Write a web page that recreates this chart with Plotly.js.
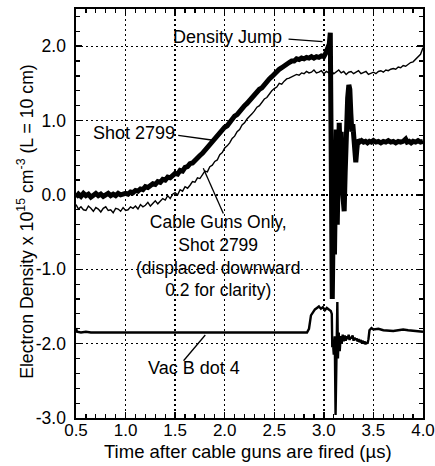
<!DOCTYPE html>
<html>
<head>
<meta charset="utf-8">
<script src="https://cdn.plot.ly/plotly-3.0.1.min.js"></script>
<style>html,body{margin:0;padding:0;background:#fff;}#chart{width:435px;height:466px;}</style>
</head>
<body>
<div id="chart"></div>
<script>
// ---- Shot 2799 (plasma shot, thick trace) ----
var shotX = [0.500,0.525,0.550,0.575,0.600,0.625,0.650,0.675,0.700,0.725,0.750,0.775,0.800,0.825,0.850,0.875,0.900,0.925,0.950,0.975,
1.000,1.025,1.050,1.075,1.100,1.125,1.150,1.175,1.200,1.225,1.250,1.275,1.300,1.325,1.350,1.375,1.400,1.425,1.450,1.475,
1.500,1.525,1.550,1.575,1.600,1.625,1.650,1.675,1.700,1.725,1.750,1.775,1.800,1.825,1.850,1.875,1.900,1.925,1.950,1.975,
2.000,2.025,2.050,2.075,2.100,2.125,2.150,2.175,2.200,2.225,2.250,2.275,2.300,2.325,2.350,2.375,2.400,2.425,2.450,2.475,
2.500,2.525,2.550,2.575,2.600,2.625,2.650,2.675,2.700,2.725,2.750,2.775,2.800,2.825,2.850,2.875,2.900,2.925,2.950,2.975,
3.000,3.020,3.040,3.055,3.065,3.072,3.078,3.085,3.092,3.100,3.107,3.115,3.125,3.135,3.145,3.155,3.165,3.175,3.185,3.195,
3.205,3.215,3.225,3.240,3.252,3.262,3.272,3.282,3.292,3.302,3.312,3.322,3.332,3.342,3.360,3.380,3.400,3.420,3.440,3.460,
3.480,3.500,3.525,3.550,3.575,3.600,3.625,3.650,3.675,3.700,3.725,3.750,3.775,3.800,3.825,3.840,3.860,3.880,3.900,3.925,
3.950,3.975,4.000];
var shotY = [-0.03,0.01,-0.02,0.02,-0.01,0.01,-0.03,0.00,0.02,-0.01,0.01,-0.02,0.01,0.02,-0.01,0.01,-0.01,0.02,0.00,0.01,
0.02,0.01,0.04,0.03,0.06,0.05,0.08,0.07,0.11,0.10,0.13,0.15,0.14,0.18,0.17,0.21,0.20,0.24,0.23,0.27,
0.29,0.28,0.33,0.32,0.37,0.38,0.42,0.43,0.47,0.50,0.53,0.56,0.60,0.63,0.67,0.71,0.75,0.78,0.83,0.86,
0.91,0.93,0.98,1.01,1.06,1.08,1.13,1.15,1.20,1.23,1.27,1.30,1.35,1.37,1.42,1.44,1.49,1.52,1.56,1.59,
1.63,1.65,1.69,1.71,1.74,1.76,1.78,1.80,1.80,1.83,1.82,1.84,1.83,1.85,1.84,1.86,1.84,1.86,1.85,1.87,
1.86,1.91,1.96,2.03,2.18,1.40,0.20,-1.40,-0.60,0.20,-0.80,0.50,0.88,-0.40,0.30,0.97,0.50,0.85,0.10,-0.20,
-0.22,0.30,0.90,1.30,1.48,1.42,1.10,0.85,0.95,0.75,0.60,0.44,0.60,0.74,0.71,0.73,0.71,0.72,0.70,0.72,
0.71,0.73,0.71,0.72,0.70,0.72,0.71,0.73,0.71,0.72,0.70,0.72,0.71,0.72,0.75,0.71,0.72,0.70,0.72,0.71,
0.73,0.71,0.72];

// ---- Cable guns only, shot 2799 (displaced downward 0.2), thin trace ----
var cableX = [0.500,0.525,0.550,0.575,0.600,0.625,0.650,0.675,0.700,0.725,0.750,0.775,0.800,0.825,0.850,0.875,0.900,0.925,0.950,0.975,
1.000,1.025,1.050,1.075,1.100,1.125,1.150,1.175,1.200,1.225,1.250,1.275,1.300,1.325,1.350,1.375,1.400,1.425,1.450,1.475,
1.500,1.525,1.550,1.575,1.600,1.625,1.650,1.675,1.700,1.725,1.750,1.775,1.800,1.825,1.850,1.875,1.900,1.925,1.950,1.975,
2.000,2.025,2.050,2.075,2.100,2.125,2.150,2.175,2.200,2.225,2.250,2.275,2.300,2.325,2.350,2.375,2.400,2.425,2.450,2.475,
2.500,2.525,2.550,2.575,2.600,2.625,2.650,2.675,2.700,2.725,2.750,2.775,2.800,2.825,2.850,2.875,2.900,2.925,2.950,2.975,
3.000,3.025,3.050,3.075,3.100,3.125,3.150,3.175,3.200,3.225,3.250,3.275,3.300,3.325,3.350,3.375,3.400,3.425,3.450,3.475,
3.500,3.525,3.550,3.575,3.600,3.625,3.650,3.675,3.700,3.725,3.750,3.775,3.800,3.825,3.850,3.875,3.900,3.925,3.950,3.975,
4.000];
var cableY = [-0.13,-0.19,-0.16,-0.20,-0.21,-0.15,-0.18,-0.22,-0.17,-0.19,-0.23,-0.18,-0.16,-0.21,-0.20,-0.24,-0.18,-0.19,-0.22,-0.17,
-0.21,-0.20,-0.16,-0.18,-0.15,-0.19,-0.13,-0.16,-0.14,-0.10,-0.15,-0.11,-0.08,-0.12,-0.09,-0.05,-0.07,-0.01,-0.05,0.01,
0.03,0.00,0.07,0.05,0.11,0.09,0.13,0.18,0.17,0.23,0.22,0.28,0.32,0.31,0.38,0.40,0.45,0.47,0.54,0.57,
0.63,0.66,0.70,0.76,0.79,0.85,0.88,0.94,0.97,1.02,1.05,1.09,1.13,1.18,1.20,1.25,1.29,1.31,1.36,1.40,
1.43,1.45,1.50,1.49,1.53,1.56,1.57,1.59,1.60,1.62,1.61,1.64,1.63,1.66,1.64,1.65,1.68,1.64,1.65,1.67,
1.63,1.66,1.64,1.67,1.63,1.65,1.68,1.64,1.66,1.62,1.65,1.66,1.63,1.65,1.67,1.63,1.64,1.66,1.62,1.64,
1.65,1.63,1.66,1.67,1.65,1.68,1.67,1.69,1.70,1.69,1.72,1.71,1.74,1.73,1.76,1.78,1.79,1.82,1.85,1.89,
1.98];

// ---- Vac B dot 4 (offset trace near -1.85) ----
var vacX = [0.500,0.510,0.550,0.600,0.650,0.700,0.750,0.800,0.850,0.900,0.950,1.000,1.050,1.100,1.150,1.200,1.250,1.300,1.350,1.400,
1.450,1.500,1.550,1.600,1.650,1.700,1.750,1.800,1.850,1.900,1.950,2.000,2.050,2.100,2.150,2.200,2.250,2.300,2.350,2.400,
2.450,2.500,2.550,2.600,2.650,2.700,2.750,2.800,2.830,2.850,2.870,2.890,2.910,2.930,2.950,2.970,2.990,3.010,3.030,3.050,
3.070,3.080,3.085,3.090,3.100,3.110,3.118,3.125,3.130,3.136,3.142,3.150,3.160,3.170,3.180,3.190,3.200,3.210,3.220,3.230,
3.240,3.250,3.260,3.270,3.280,3.290,3.300,3.310,3.320,3.330,3.340,3.350,3.360,3.370,3.380,3.390,3.400,3.410,3.420,3.430,
3.440,3.450,3.460,3.470,3.480,3.500,3.550,3.600,3.650,3.700,3.750,3.800,3.850,3.900,3.950,4.000];
var vacY = [-1.79,-1.84,-1.85,-1.84,-1.85,-1.85,-1.84,-1.85,-1.85,-1.84,-1.85,-1.85,-1.84,-1.85,-1.84,-1.85,-1.85,-1.84,-1.85,-1.84,
-1.85,-1.85,-1.84,-1.85,-1.84,-1.85,-1.85,-1.84,-1.85,-1.85,-1.84,-1.85,-1.84,-1.85,-1.85,-1.84,-1.85,-1.85,-1.84,-1.85,
-1.85,-1.84,-1.85,-1.85,-1.84,-1.85,-1.85,-1.84,-1.85,-1.80,-1.62,-1.58,-1.54,-1.52,-1.50,-1.53,-1.51,-1.55,-1.52,-1.54,
-1.56,-1.60,-2.05,-1.95,-2.15,-1.90,-2.96,-2.40,-1.95,-1.44,-2.20,-1.85,-2.10,-1.90,-2.00,-1.88,-1.97,-1.89,-1.96,-1.90,
-1.94,-1.88,-1.95,-1.91,-1.93,-1.89,-1.96,-1.92,-1.95,-1.93,-1.97,-1.94,-1.98,-1.95,-1.99,-1.96,-2.00,-1.97,-2.01,-1.98,
-2.00,-1.94,-1.82,-1.80,-1.79,-1.81,-1.80,-1.82,-1.83,-1.83,-1.82,-1.81,-1.82,-1.83,-1.84,-1.84];

// ---- Axis ticks and titles ----
var xTickVals = [0.5,1.0,1.5,2.0,2.5,3.0,3.5,4.0];
var xTickText = ['0.5','1.0','1.5','2.0','2.5','3.0','3.5','4.0'];
var yTickVals = [-3,-2,-1,0,1,2];
var yTickText = ['-3.0','-2.0','-1.0','0.0','1.0','2.0'];
var xTitle = 'Time after cable guns are fired (\u00b5s)';
var yTitle = 'Electron Density x 10<sup>15</sup> cm<sup>-3</sup> (L = 10 cm)';

var FONT = 'Liberation Sans, Arial, Helvetica, sans-serif';

var traces = [
  {x: cableX, y: cableY, type: 'scatter', mode: 'lines', name: 'Cable Guns Only',
   line: {color: '#000', width: 1.4}, hoverinfo: 'skip'},
  {x: vacX, y: vacY, type: 'scatter', mode: 'lines', name: 'Vac B dot 4',
   line: {color: '#000', width: 2.4}, hoverinfo: 'skip'},
  {x: shotX, y: shotY, type: 'scatter', mode: 'lines', name: 'Shot 2799',
   line: {color: '#000', width: 5}, hoverinfo: 'skip'}
];

var axisCommon = {
  showline: true, linecolor: '#000', linewidth: 1.6, mirror: 'allticks',
  ticks: 'inside', ticklen: 6, tickwidth: 1.5, tickcolor: '#000',
  showgrid: true, gridcolor: '#000', gridwidth: 1.3, griddash: '2px,3px',
  zeroline: false, tickmode: 'array', ticklabeloverflow: 'allow',
  tickfont: {family: FONT, size: 17.5, color: '#000'}
};

function leader(x0, y0, x1, y1) {
  return {type: 'line', xref: 'x', yref: 'y', x0: x0, y0: y0, x1: x1, y1: y1,
          line: {color: '#000', width: 1.3}};
}

var layout = {
  width: 435, height: 466,
  margin: {l: 76, r: 12, t: 9, b: 48},
  paper_bgcolor: '#fff', plot_bgcolor: '#fff',
  showlegend: false,
  font: {family: FONT, color: '#000'},
  xaxis: Object.assign({}, axisCommon, {
    range: [0.5, 4.0], tickvals: xTickVals, ticktext: xTickText,
    ticklabelstandoff: -4,
    tickfont: {family: FONT, size: 17, color: '#000'},
    minor: {dtick: 0.1, tick0: 0.5, ticks: 'inside', ticklen: 4, tickwidth: 1.2, tickcolor: '#000', showgrid: false}
  }),
  yaxis: Object.assign({}, axisCommon, {
    range: [-3.0, 2.5], tickvals: yTickVals, ticktext: yTickText,
    ticklabelstandoff: 5,
    minor: {dtick: 0.2, tick0: 0, ticks: 'inside', ticklen: 4, tickwidth: 1.2, tickcolor: '#000', showgrid: false}
  }),
  shapes: [
    leader(2.644, 2.096, 2.987, 2.062),
    leader(1.531, 0.802, 1.885, 0.735),
    leader(1.986, -0.249, 1.784, 0.357),
    leader(1.585, -2.23, 1.804, -1.884)
  ],
  annotations: [
    {x: 0.496, y: -0.083, xref: 'paper', yref: 'paper', xanchor: 'center', yanchor: 'middle',
     text: xTitle, showarrow: false, font: {family: FONT, size: 18.5, color: '#000'}},
    {x: -0.147, y: 0.482, xref: 'paper', yref: 'paper', xanchor: 'center', yanchor: 'middle',
     text: yTitle, textangle: -90, showarrow: false, font: {family: FONT, size: 17.7, color: '#000'}},
    {x: 2.032, y: 2.124, xref: 'x', yref: 'y', text: 'Density Jump', showarrow: false,
     font: {family: FONT, size: 18, color: '#000'}},
    {x: 1.086, y: 0.826, xref: 'x', yref: 'y', text: 'Shot 2799', showarrow: false,
     font: {family: FONT, size: 18, color: '#000'}},
    {x: 1.936, y: -0.821, xref: 'x', yref: 'y',
     text: 'Cable Guns Only,<br>Shot 2799<br>(displaced downward<br>0.2 for clarity)', showarrow: false,
     align: 'center', font: {family: FONT, size: 17.5, color: '#000'}},
    {x: 1.693, y: -2.334, xref: 'x', yref: 'y', text: 'Vac B dot 4', showarrow: false,
     font: {family: FONT, size: 18, color: '#000'}}
  ]
};

Plotly.newPlot('chart', traces, layout, {displayModeBar: false, staticPlot: true});
</script>
</body>
</html>
